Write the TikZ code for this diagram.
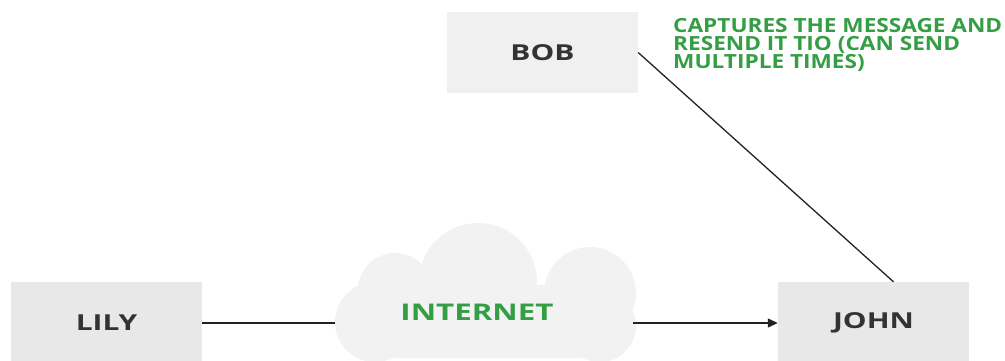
\documentclass[tikz,border=0pt]{standalone}
\usepackage{fontspec}
\setmainfont[FakeStretch=1.36]{Open Sans}
\newfontfamily\notefont[FakeStretch=1.16]{Open Sans}
\usetikzlibrary{arrows.meta}
\definecolor{boxA}{HTML}{F0F0F0}
\definecolor{boxB}{HTML}{E8E8E8}
\definecolor{cloudc}{HTML}{F2F2F2}
\definecolor{gfg}{RGB}{52,158,68}
\definecolor{ink}{HTML}{333333}
\definecolor{linec}{HTML}{222222}
\tikzset{
  party/.style={fill=#1, draw=none, minimum width=191pt, minimum height=82pt, inner sep=0pt,
    text=ink, font=\fontsize{22}{24}\selectfont\bfseries},
  conn/.style={draw=linec, line width=1.3pt},
  greentext/.style={text=gfg, font=\notefont\fontsize{19.5}{18}\selectfont\bfseries, inner sep=0pt},
  cloudpart/.style={fill=cloudc},
}
\begin{document}
\begin{tikzpicture}[x=1pt,y=-1pt]
\useasboundingbox (0,0) rectangle (1005,360);
\clip (0,0) rectangle (1005,360);
% cloud
\fill[cloudpart] (478,282) circle (59);
\fill[cloudpart] (395,290) circle (37);
\fill[cloudpart] (375,322) circle (40);
\fill[cloudpart] (590,293) circle (46);
\fill[cloudpart] (600,326) circle (36);
\fill[cloudpart, rounded corners=20pt] (375,285) rectangle (600,358);
\fill[cloudpart] (375,285) rectangle (600,330);
\node[inner sep=0pt, minimum width=298pt, minimum height=1pt] (cloud) at (484,323) {};
\node[text=gfg, inner sep=0pt, font=\fontsize{23}{24}\selectfont\bfseries] (internet) at (477,312) {INTERNET};
% boxes
\node[party=boxA, minimum height=81pt] (bob) at (542.5,52.5) {BOB};
\node[party=boxB] (lily) at (106.5,323) {LILY};
\node[party=boxB] (john) at (873.5,323) {JOHN};
% note
\node[greentext, anchor=north west, align=left] (note) at (673,18) {CAPTURES THE MESSAGE AND\\RESEND IT TIO (CAN SEND\\MULTIPLE TIMES)};
% connectors
\draw[conn] (lily.east) -- (cloud.west);
\draw[conn, -{Triangle[length=10pt,width=9pt]}] (cloud.east) -- (john.west);
\draw[conn] (bob.east) -- ([xshift=20pt]john.north);
\end{tikzpicture}
\end{document}
